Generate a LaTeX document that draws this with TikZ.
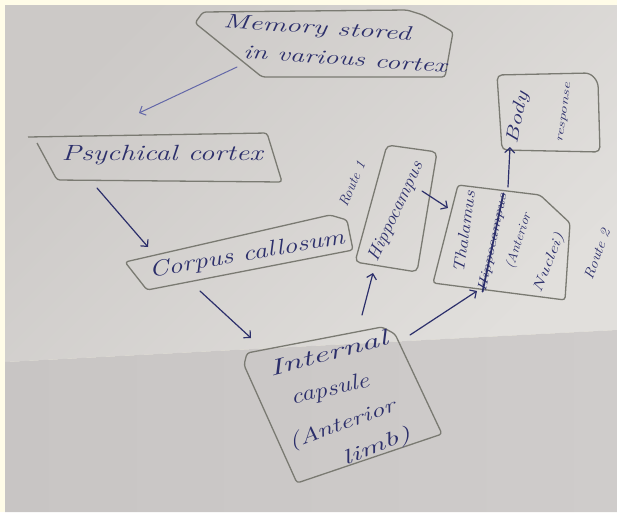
\documentclass[tikz,border=0pt]{standalone}
\usetikzlibrary{arrows.meta}
\definecolor{cream}{HTML}{FFFCE8}
\definecolor{paperA}{HTML}{CCC9C7}
\definecolor{paperB}{HTML}{E1DFDC}
\definecolor{paperC}{HTML}{C8C5C4}
\definecolor{paperD}{HTML}{CFCCCB}
\definecolor{boxc}{HTML}{7A7A72}
\definecolor{ink}{HTML}{2C2F6B}
\definecolor{inkl}{HTML}{6367A8}
\newcommand\hwbox[2]{\resizebox{#1}{\height}{#2}}
\begin{document}
\begin{tikzpicture}[x=1pt,y=-1pt,
  box/.style={draw=boxc, line width=1.3pt, rounded corners=3pt, line join=round},
  link/.style={draw=ink, line width=1.2pt, line cap=round, -{Straight Barb[length=5pt,width=10pt]}},
  hw/.style={text=ink, inner sep=0pt, font=\fontsize{22}{24}\selectfont\itshape},
  hws/.style={hw, font=\fontsize{16}{18}\selectfont\itshape},
]
\useasboundingbox (0,0) rectangle (617,512);
\fill[cream] (0,0) rectangle (617,512);
\shade[top color=paperA, bottom color=paperB, shading angle=45]
  (5,5) -- (617,5) -- (617,330) -- (5,362) -- cycle;
\shade[left color=paperC, right color=paperD]
  (5,362) -- (617,330) -- (617,512) -- (5,512) -- cycle;

% boxes
\draw[box] (203,12) -- (407,10) -- (423,15) -- (453,32) -- (445,77) -- (262,77) -- (195,23) -- cycle;
\draw[box] (28,137) -- (267,133) -- (282,182) -- (57,180) -- (37,143);
\draw[box] (125,262) -- (330,215) -- (347,220) -- (353,250) -- (147,290) -- cycle;
\draw[box] (247,353) -- (382,327) -- (395,334) -- (442,434) -- (297,483) -- (244,365) -- cycle;
\draw[box, rounded corners=5pt] (387,145) -- (437,152) -- (417,272) -- (355,262) -- cycle;
\draw[box] (458,185) -- (540,195) -- (570,223) -- (565,300) -- (433,283) -- cycle;
\draw[box, rounded corners=5pt] (497,75) -- (590,73) -- (598,82) -- (600,152) -- (502,150) -- cycle;

% texts
\node[hw, font=\fontsize{20}{22}\selectfont\itshape, rotate=-4] (mem1) at (317,29) {\hwbox{188pt}{Memory stored}};
\node[hw, font=\fontsize{20}{22}\selectfont\itshape, rotate=-4] (mem2) at (345,59) {\hwbox{204pt}{in various cortex}};
\node[hw] (psy) at (162,155) {\hwbox{201pt}{Psychical cortex}};
\node[hw, rotate=10] (cor) at (247,255) {\hwbox{198pt}{Corpus callosum}};
\node[hw, rotate=15] (ic1) at (328,353) {\hwbox{122pt}{Internal}};
\node[hw, rotate=13] (ic2) at (330,390) {\hwbox{80pt}{capsule}};
\node[hw, font=\fontsize{20}{22}\selectfont\itshape, rotate=20] (ic3) at (342,425) {\hwbox{112pt}{(Anterior}};
\node[hw, font=\fontsize{20}{22}\selectfont\itshape, rotate=22] (ic4) at (377,447) {\hwbox{72pt}{limb)}};
\node[hw, font=\fontsize{18}{20}\selectfont\itshape, rotate=65] (hip) at (396,212) {\hwbox{108pt}{Hippocampus}};
\node[hws, rotate=82] (th1) at (464,232) {\hwbox{82pt}{Thalamus}};
\node[hws, font=\fontsize{13}{15}\selectfont\itshape, rotate=78] (th2) at (493,243) {\hwbox{100pt}{Hippocampus}};
\node[hws, font=\fontsize{13}{15}\selectfont\itshape, rotate=72] (th3) at (519,241) {\hwbox{58pt}{(Anterior}};
\node[hws, font=\fontsize{14}{16}\selectfont\itshape, rotate=68] (th4) at (549,263) {\hwbox{62pt}{Nuclei)}};
\node[hws, font=\fontsize{18}{20}\selectfont\itshape, rotate=78] (body) at (518,118) {\hwbox{52pt}{Body}};
\node[hws, font=\fontsize{11}{13}\selectfont\itshape, rotate=82] (resp) at (565,113) {\hwbox{60pt}{response}};
\node[hws, font=\fontsize{14}{16}\selectfont\itshape, rotate=67] (r1) at (352,184) {\hwbox{48pt}{Route 1}};
\node[hws, font=\fontsize{14}{16}\selectfont\itshape, rotate=70] (r2) at (597,254) {\hwbox{52pt}{Route 2}};
% strike-through
\draw[ink, line width=1.8pt, line cap=round] ([yshift=0.5pt]th2.west) -- ([yshift=0.5pt]th2.east);

% connector end points
\coordinate (a1s) at (237,67);  \coordinate (a1e) at (139,113);
\coordinate (a2s) at (97,188);  \coordinate (a2e) at (148,247);
\coordinate (a3s) at (200,291); \coordinate (a3e) at (251,338);
\coordinate (a4s) at (362,315); \coordinate (a4e) at (373,273);
\coordinate (a5s) at (410,335); \coordinate (a5e) at (477,291);
\coordinate (a6s) at (422,191); \coordinate (a6e) at (448,208);
\coordinate (a7s) at (508,187); \coordinate (a7e) at (510,147);

\draw[link, draw=inkl, line width=1pt] (a1s) -- (a1e);
\draw[link] (a2s) -- (a2e);
\draw[link] (a3s) -- (a3e);
\draw[link] (a4s) -- (a4e);
\draw[link] (a5s) -- (a5e);
\draw[link] (a6s) -- (a6e);
\draw[link] (a7s) -- (a7e);
\end{tikzpicture}
\end{document}
